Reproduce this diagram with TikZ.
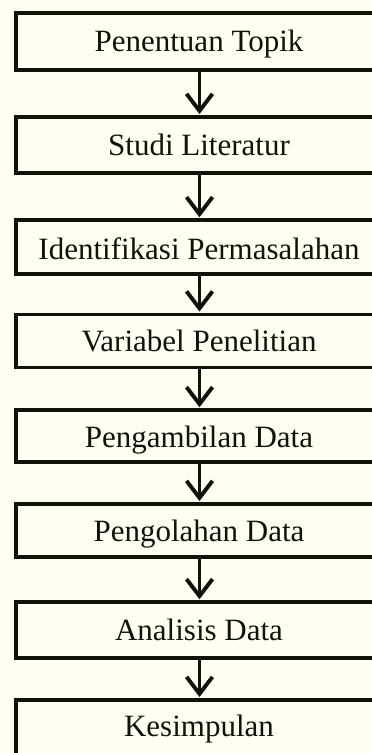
\documentclass[tikz,border=0pt]{standalone}
\usepackage{fontspec}
\setmainfont{Liberation Serif}[Ligatures=NoCommon]
\usetikzlibrary{arrows.meta}
\definecolor{bgcream}{HTML}{FFFFF2}
\definecolor{ink}{HTML}{121208}
\begin{document}
\begin{tikzpicture}[x=1pt,y=1pt,
  box/.style={draw=ink, line width=3.9pt, minimum width=367pt, minimum height=#1, inner sep=0pt, anchor=center},
  lbl/.style={anchor=base, inner sep=0pt, font=\fontsize{31}{36}\selectfont, text=ink},
  flow/.style={draw=ink, line width=3.9pt, shorten >=1pt, -{Straight Barb[length=17pt,width=26pt]}}]
\fill[bgcream] (0,0) rectangle (372,753);
\useasboundingbox (0,0) rectangle (372,753);
\clip (0,0) rectangle (372,753);
% boxes
\node[box=57pt]   (b1) at (199.5,711.5) {};
\node[box=56pt]   (b2) at (199.5,608) {};
\node[box=53.5pt] (b3) at (199.5,506) {};
\node[box=53pt]   (b4) at (199.5,412) {};
\node[box=51.5pt] (b5) at (199.5,317) {};
\node[box=53pt]   (b6) at (199.5,222.5) {};
\node[box=55.5pt] (b7) at (199.5,123) {};
\node[box=56pt]   (b8) at (199.5,25) {};
% labels
\node[lbl] (t1) at (199,701) {Penentuan Topik};
\node[lbl] (t2) at (199,597) {Studi Literatur};
\node[lbl] (t3) at (199,493) {Identifikasi Permasalahan};
\node[lbl] (t4) at (199,401.3) {Variabel Penelitian};
\begin{scope}
\clip (0,298) rectangle (372,753);
\node[lbl] (t5) at (199,305) {Pengambilan Data};
\end{scope}
\begin{scope}
\clip (0,204) rectangle (372,753);
\node[lbl] (t6) at (199,211) {Pengolahan Data};
\end{scope}
\node[lbl] (t7) at (199,112.3) {Analisis Data};
\node[lbl] (t8) at (199,16.3) {Kesimpulan};
% connectors
\draw[flow] (b1.south) -- (b2.north);
\draw[flow] (b2.south) -- (b3.north);
\draw[flow] (b3.south) -- (b4.north);
\draw[flow] (b4.south) -- (b5.north);
\draw[flow] (b5.south) -- (b6.north);
\draw[flow] (b6.south) -- (b7.north);
\draw[flow] (b7.south) -- (b8.north);
\end{tikzpicture}
\end{document}
